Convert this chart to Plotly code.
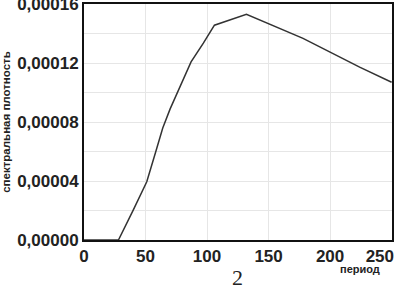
import plotly.graph_objects as go

period = [0, 28, 40, 51, 58, 64, 70, 75, 87, 97, 106, 132, 155, 178, 200, 224, 250]
density = [0.0, 0.0, 0.0000203, 0.0000395, 0.0000590, 0.0000760, 0.0000890, 0.0000983,
           0.0001209, 0.0001336, 0.0001458, 0.0001532, 0.000145, 0.0001369, 0.0001275,
           0.0001173, 0.0001071]
y_ticks = [0, 0.00004, 0.00008, 0.00012, 0.00016]
y_labels = ["0,00000", "0,00004", "0,00008", "0,00012", "0,00016"]
x_ticks = [0, 50, 100, 150, 200, 250]
x_labels = ["0", "50", "100", "150", "200", "250" + "\u00a0" * 5]

fig = go.Figure()
fig.add_trace(go.Scatter(x=period, y=density, mode="lines",
                         line=dict(color="#333333", width=1.5), showlegend=False))

FAM = "Liberation Sans, Arial, sans-serif"
font_b = dict(family=FAM, size=17, color="#222222", weight="bold")
fig.update_layout(
    width=394, height=285,
    margin=dict(l=84, r=2, t=4, b=45, autoexpand=False),
    paper_bgcolor="white", plot_bgcolor="white",
    xaxis=dict(range=[0, 250.3], tickvals=x_ticks, ticktext=x_labels,
               showgrid=True, gridcolor="#e6e6e6", gridwidth=1,
               showline=True, linecolor="#111111", linewidth=2, mirror=True,
               ticks="", tickfont=font_b, zeroline=False, automargin=False,
               ticklabeloverflow="allow"),
    yaxis=dict(range=[0, 0.0001602], tickvals=y_ticks, ticktext=y_labels,
               showgrid=True, gridcolor="#e6e6e6", gridwidth=1,
               minor=dict(dtick=0.00002, showgrid=True, gridcolor="#e6e6e6"),
               showline=True, linecolor="#111111", linewidth=2, mirror=True,
               ticks="", tickfont=font_b, zeroline=False, automargin=False,
               ticklabeloverflow="allow",
               title=dict(text="спектральная плотность",
                          font=dict(family=FAM, size=11.5, color="#222222", weight="bold"),
                          standoff=5)),
    annotations=[
        dict(text="период", x=1.0, xanchor="right", y=-0.088, yanchor="top",
             xref="paper", yref="paper", xshift=-10, showarrow=False,
             font=dict(family=FAM, size=11, color="#222222", weight="bold")),
        dict(text="2", x=0.497, xanchor="center", y=-0.098, yanchor="top",
             xref="paper", yref="paper", showarrow=False,
             font=dict(family="Liberation Serif, Times New Roman, serif", size=22, color="#222222")),
    ],
)
fig.write_html("out.html", config={"displayModeBar": False},
               post_script="document.body.style.margin='0px';document.body.style.overflow='hidden';")
